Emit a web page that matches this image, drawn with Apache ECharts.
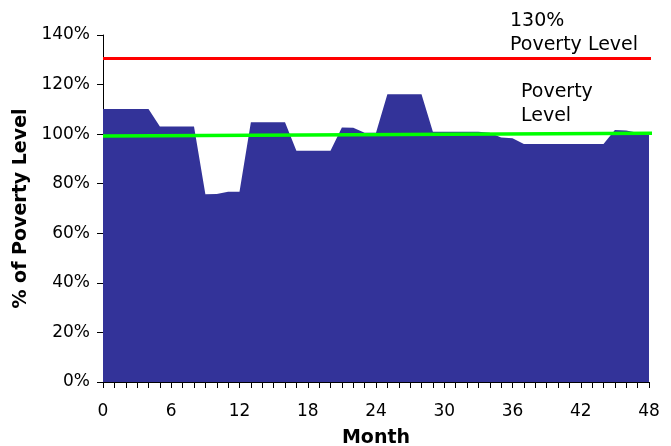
<!DOCTYPE html>
<html>
<head>
<meta charset="utf-8">
<script src="https://cdn.jsdelivr.net/npm/echarts@6/dist/echarts.min.js"></script>
<style>
html,body{margin:0;padding:0;background:#fff;}
#chart{width:671px;height:446px;}
</style>
</head>
<body>
<div id="chart"></div>
<script>
// Months 0..48
var months = [0,1,2,3,4,5,6,7,8,9,10,11,12,13,14,15,16,17,18,19,20,21,22,23,24,25,26,27,28,29,30,31,32,33,34,35,36,37,38,39,40,41,42,43,44,45,46,47,48];
// Income as % of poverty level
var incomePct = [110.1,110.1,110.1,110.1,110.1,103.1,103.1,103.1,103.1,75.7,75.9,76.8,76.8,104.8,104.8,104.8,104.8,93.3,93.3,93.3,93.3,102.7,102.6,100.6,100.6,116.1,116.1,116.1,116.1,101.0,101.0,101.0,101.0,101.0,100.6,98.6,98.3,96.0,96.0,96.0,96.0,96.0,96.0,96.0,96.0,101.7,101.5,100.6,100.5];
// Reference lines (start, end)
var povertyLineX = [0, 48.3];
var povertyLineY = [99.3, 100.4];
var pov130LineX = [0, 48.3];
var pov130LineY = [130.5, 130.5];
var yTicks = [0,20,40,60,80,100,120,140];
var xTicks = [0,6,12,18,24,30,36,42,48];

var areaData = months.map(function(m,i){return [m, incomePct[i]];});
var povData = povertyLineX.map(function(x,i){return [x, povertyLineY[i]];});
var pov130Data = pov130LineX.map(function(x,i){return [x, pov130LineY[i]];});

var FONT = 'DejaVu Sans';
var chart = echarts.init(document.getElementById('chart'));
chart.setOption({
  animation: false,
  backgroundColor: '#ffffff',
  grid: {left: 103, right: 22, top: 35, bottom: 64, outerBoundsMode: 'none'},
  xAxis: {
    type: 'value', min: xTicks[0], max: xTicks[xTicks.length-1], interval: 6,
    name: 'Month', nameLocation: 'middle', nameGap: 47,
    nameTextStyle: {fontFamily: FONT, fontSize: 19, fontWeight: 'bold', color: '#000'},
    axisLine: {show: true, onZero: false, lineStyle: {color: '#000', width: 1}},
    axisTick: {show: true, inside: false, length: 6, lineStyle: {color: '#000'}},
    minorTick: {show: true, splitNumber: 6, length: 6, lineStyle: {color: '#000'}},
    axisLabel: {fontFamily: FONT, fontSize: 17, color: '#000', margin: 21},
    splitLine: {show: false}
  },
  yAxis: {
    type: 'value', min: yTicks[0], max: yTicks[yTicks.length-1], interval: 20,
    name: '% of Poverty Level', nameLocation: 'middle', nameGap: 67, nameRotate: 90,
    nameTextStyle: {fontFamily: FONT, fontSize: 19, fontWeight: 'bold', color: '#000'},
    axisLine: {show: true, lineStyle: {color: '#000', width: 1}},
    axisTick: {show: true, inside: false, length: 6, lineStyle: {color: '#000'}},
    axisLabel: {fontFamily: FONT, fontSize: 17, color: '#000', margin: 13, formatter: '{value}%'},
    splitLine: {show: false}
  },
  series: [
    {
      type: 'line', data: areaData, symbol: 'none', z: 1,
      lineStyle: {width: 0}, itemStyle: {color: '#333399'},
      areaStyle: {color: '#333399', opacity: 1}
    },
    {
      type: 'line', data: povData, symbol: 'none', clip: false, z: 3,
      lineStyle: {color: '#00ff00', width: 3.5}
    },
    {
      type: 'line', data: pov130Data, symbol: 'none', clip: false, z: 3,
      lineStyle: {color: '#ff0000', width: 3}
    }
  ],
  graphic: [
    {type: 'text', left: 510, top: 9, style: {text: '130%\nPoverty Level', fontFamily: FONT, fontSize: 19, lineHeight: 24, fill: '#000'}},
    {type: 'text', left: 521, top: 80, style: {text: 'Poverty\nLevel', fontFamily: FONT, fontSize: 19, lineHeight: 24, fill: '#000'}}
  ]
});
</script>
</body>
</html>
